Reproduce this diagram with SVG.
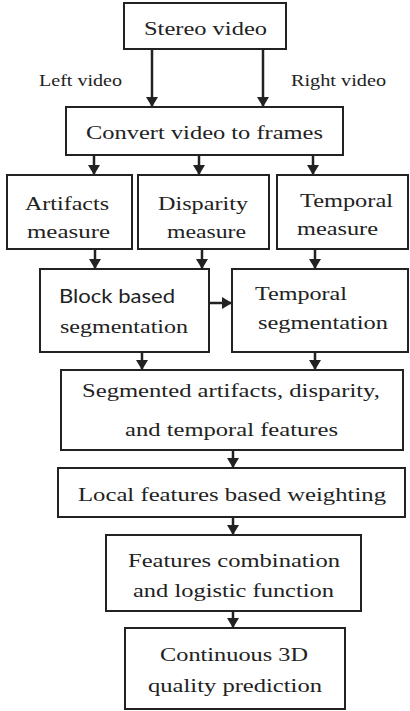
<svg xmlns="http://www.w3.org/2000/svg" width="410" height="711" viewBox="0 0 410 711">
<defs>
<marker id="ah" markerWidth="10" markerHeight="12" refX="10" refY="6" orient="auto" markerUnits="userSpaceOnUse">
<path d="M0,0 L10,6 L0,12 Z" fill="#222"/>
</marker>
<style>
.box{fill:#fff;stroke:#222;stroke-width:2}
text{font-family:"Liberation Serif",serif;font-size:19px;fill:#222;lengthAdjust:spacingAndGlyphs}
.s{font-size:16px}
.c{font-family:Lato,"Liberation Sans",sans-serif}
.ln{stroke:#222;stroke-width:2.5;fill:none;marker-end:url(#ah)}
</style>
</defs>
<rect width="410" height="711" fill="#fff"/>
<g id="connectors">
<line class="ln" x1="152" y1="49" x2="152" y2="107"/>
<line class="ln" x1="263" y1="49" x2="263" y2="107"/>
<line class="ln" x1="94" y1="155" x2="94" y2="175"/>
<line class="ln" x1="199" y1="155" x2="199" y2="175"/>
<line class="ln" x1="313" y1="155" x2="313" y2="175"/>
<line class="ln" x1="95" y1="249" x2="95" y2="269"/>
<line class="ln" x1="202" y1="249" x2="202" y2="269"/>
<line class="ln" x1="315" y1="249" x2="315" y2="269"/>
<line class="ln" x1="209" y1="303" x2="232" y2="303"/>
<line class="ln" x1="142" y1="352" x2="142" y2="370"/>
<line class="ln" x1="315" y1="352" x2="315" y2="370"/>
<line class="ln" x1="233" y1="450" x2="233" y2="468"/>
<line class="ln" x1="233" y1="517" x2="233" y2="535"/>
<line class="ln" x1="233" y1="611" x2="233" y2="628"/>
<text class="s" x="39" y="86" textLength="83" lengthAdjust="spacingAndGlyphs">Left video</text>
<text class="s" x="291" y="86" textLength="95" lengthAdjust="spacingAndGlyphs">Right video</text>
</g>
<g id="stereo"><rect class="box" x="124" y="3" width="162" height="46"/><text x="144" y="35" textLength="123" lengthAdjust="spacingAndGlyphs">Stereo video</text></g>
<g id="convert"><rect class="box" x="66" y="107" width="277" height="48"/><text x="86" y="139" textLength="237" lengthAdjust="spacingAndGlyphs">Convert video to frames</text></g>
<g id="artifacts"><rect class="box" x="7" y="175" width="125" height="74"/><text x="25" y="210" textLength="84" lengthAdjust="spacingAndGlyphs">Artifacts</text><text x="27" y="238" textLength="83" lengthAdjust="spacingAndGlyphs">measure</text></g>
<g id="disparity"><rect class="box" x="138" y="175" width="131" height="74"/><text x="158" y="210" textLength="90" lengthAdjust="spacingAndGlyphs">Disparity</text><text x="167" y="238" textLength="79" lengthAdjust="spacingAndGlyphs">measure</text></g>
<g id="temporal"><rect class="box" x="277" y="175" width="131" height="74"/><text x="300" y="207" textLength="93" lengthAdjust="spacingAndGlyphs">Temporal</text><text x="297" y="235" textLength="81" lengthAdjust="spacingAndGlyphs">measure</text></g>
<g id="block"><rect class="box" x="40" y="269" width="169" height="83"/><text class="c" x="59" y="303" textLength="116" lengthAdjust="spacingAndGlyphs">Block based</text><text x="60" y="333" textLength="128" lengthAdjust="spacingAndGlyphs">segmentation</text></g>
<g id="tempseg"><rect class="box" x="232" y="269" width="176" height="83"/><text x="255" y="300" textLength="92" lengthAdjust="spacingAndGlyphs">Temporal</text><text x="258" y="329" textLength="130" lengthAdjust="spacingAndGlyphs">segmentation</text></g>
<g id="segmented"><rect class="box" x="61" y="370" width="342" height="80"/><text x="82" y="397" textLength="298" lengthAdjust="spacingAndGlyphs">Segmented artifacts, disparity,</text><text x="125" y="436" textLength="213" lengthAdjust="spacingAndGlyphs">and temporal features</text></g>
<g id="local"><rect class="box" x="58" y="468" width="347" height="49"/><text x="78" y="501" textLength="308" lengthAdjust="spacingAndGlyphs">Local features based weighting</text></g>
<g id="combination"><rect class="box" x="106" y="535" width="255" height="76"/><text x="128" y="567" textLength="212" lengthAdjust="spacingAndGlyphs">Features combination</text><text x="133" y="597" textLength="201" lengthAdjust="spacingAndGlyphs">and logistic function</text></g>
<g id="prediction"><rect class="box" x="125" y="628" width="220" height="81"/><text x="160" y="661" textLength="148" lengthAdjust="spacingAndGlyphs">Continuous 3D</text><text x="148" y="692" textLength="174" lengthAdjust="spacingAndGlyphs">quality prediction</text></g>
</svg>
